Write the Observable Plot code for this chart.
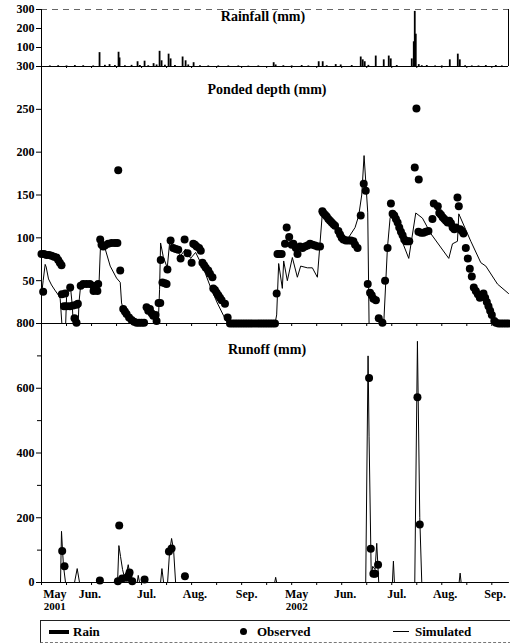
<!DOCTYPE html>
<html>
<head>
<meta charset="utf-8">
<script src="https://cdn.jsdelivr.net/npm/d3@7"></script>
<script src="https://cdn.jsdelivr.net/npm/@observablehq/plot@0.6"></script>
<style>
  html, body { margin: 0; padding: 0; background: #fff; }
  #wrap { position: relative; width: 510px; height: 644px; overflow: hidden; font-family: 'Liberation Serif', 'Times New Roman', serif; font-weight: bold; }
  #wrap svg { position: absolute; left: 0; top: 0; }
  #legend { position: absolute; left: 40px; top: 620px; width: 480px; height: 21px; border-top: 1px solid #222; border-left: 1px solid #222; border-bottom: 1px dashed #777; font-size: 13px; }
  #legend span { position: absolute; top: 3px; }
</style>
</head>
<body>
<div id="wrap">
  <div id="legend">
    <span style="left:8px;top:9px;width:20px;height:4px;background:#000"></span>
    <span style="left:32px">Rain</span>
    <span style="left:199px;top:7px;width:7px;height:7px;border-radius:50%;background:#000"></span>
    <span style="left:216px">Observed</span>
    <span style="left:352px;top:10px;width:16px;height:1px;background:#000"></span>
    <span style="left:374px">Simulated</span>
  </div>
</div>
<script>
// x values are day positions on the chart's compressed two-season time axis
const tickDays = d3.range(0, 281, 15);
const monthDays = [8, 29, 63, 92, 123, 153, 182, 213, 242, 272];
const monthLabels = ["May", "Jun.", "Jul.", "Aug.", "Sep.", "May", "Jun.", "Jul.", "Aug.", "Sep."];
const yearDays = [8, 153];
const yearLabels = ["2001", "2002"];

const rainTicks = [100, 200, 300];
const pondTicks = [50, 100, 150, 200, 250, 300];
const runoffTicks = [0, 200, 400, 600, 800];
const runoffMinorTicks = [100, 300, 500, 700];

// Rainfall (mm): [day, mm]
const rain = [[34.8,73],[40.8,10],[46.2,75],[46.8,45],[57.6,25],[61.8,28],[67.2,15],[70.8,80],[72,30],[76.2,65],[77.4,40],[84.6,50],[86.4,30],[91.2,20],[139.2,20],[140.4,8],[166.2,25],[168.6,25],[176.4,10],[179.4,8],[191.4,50],[192.6,35],[193.8,25],[200.4,55],[205.2,35],[208.2,55],[209.4,40],[222,40],[223.2,130],[223.8,290],[224.4,170],[226.2,10],[231,5],[244.8,35],[249.6,65],[250.8,35],[266.4,5],[272.4,5],
  [5,3],[10,4],[15,3],[20,5],[25,4],[31,3],[38,6],[44,5],[50,4],[54,6],[59,5],[64,4],[69,8],[74,6],[80,5],[88,8],[95,4],[100,3],[106,3],[112,3],[118,3],[124,2],[130,3],[145,4],[150,3],[156,5],[160,3],[171,4],[186,5],[196,6],[213,5],[228,4],[236,3],[240,3],[254,4],[258,3],[262,3],[276,3]];

// Ponded depth observed (mm): [day, mm]
const pondObs2001 = [[1,37],[0,81],[1.5,81],[3,80],[4.5,80],[6,79],[7.5,78],[9,77],[10,74],[11,71],[12,68],[12.2,34],[14.2,35],[17.2,42],[13.5,20],[15,20],[17,20],[19,21],[21,22],[19.8,6],[21,1],[21.8,23],[23.5,44],[25,46],[27,46],[29,46],[31,44],[31.2,38],[32.5,41],[33.5,38],[34,46],[35.2,98],[36,92],[37,90],[38,91],[40,93],[42,94],[44,94],[45.5,94],[46,179],[47.2,62],[49,17],[50,14],[51,11],[52.5,7],[54,4],[55.5,2],[57,1],[58.5,1],[60,1],[61.5,1],[63,19],[64,15],[65,17],[66,12],[67,9],[68.4,10],[69,3],[70.2,24],[71.2,24],[71.5,74],[72.5,48],[74,47],[75,46],[75.5,63],[77.4,97],[79,88],[80.5,87],[82,86],[83.4,76],[85.8,98],[87.6,82],[90,71],[91,93],[92,92],[93,90],[94.5,88],[95.5,85],[96.5,71],[97.5,68],[98.5,65],[100,62],[101,58],[102.5,54],[103,41],[104,39],[105,36],[106,33],[107,30],[108,27],[110,23],[111.6,7],[113,0],[114.5,0],[116,0],[117.5,0],[119,0],[120.5,0],[122,0],[123.5,0],[125,0],[126.5,0],[128,0],[129.5,0],[131,0],[132.5,0],[134,0],[135.5,0],[137,0],[138.5,0],[140,0]];
const pondObs2002 = [[141,35],[141.5,81],[142.5,81],[144,81],[146,93],[147,112],[148.5,101],[150,92],[151,93],[152.5,88],[153.5,81],[155,90],[156.5,88],[158,90],[159.5,91],[161,93],[162.5,92],[164,91],[165.5,90],[167,90],[168.4,131],[169,129],[170,127],[171,125],[172,122],[173,120],[174,118],[175,116],[176,114],[178,108],[179,104],[180,100],[181,98],[182.5,97],[184,97],[185.5,97],[187,96],[188,92],[189.5,88],[191.4,126],[193.2,163],[194.4,155],[195.6,46],[197,36],[198,33],[199,29],[200.5,27],[202.2,6],[204.4,1],[206,50],[207.5,88],[209.5,140],[210.5,128],[211.5,126],[212.5,122],[213.5,118],[214.5,112],[215.5,107],[216.5,103],[217.5,98],[218.5,96],[219.5,96],[220.5,96],[223.8,182],[224.8,251],[226.2,168],[226,107],[227.5,106],[229,106],[230.5,107],[232,108],[234.4,122],[235.2,140],[237.6,137],[238.5,129],[239.5,127],[240.5,124],[241.5,122],[242.5,120],[243.5,118],[244.5,120],[245.5,117],[246.5,112],[247.5,110],[248.5,112],[249.4,147],[250.2,137],[251,110],[252,108],[253,105],[254.4,88],[255.6,76],[256.8,64],[258,55],[259.2,42],[260.4,38],[261.6,34],[262.8,30],[264,33],[265,35],[266,30],[267,25],[268,20],[269,15],[270,10],[271.5,3],[272.5,1],[274,0],[275.5,0],[277,0],[278.5,0],[280,0]];

// Ponded depth simulated (mm): [day, mm]
const pondSim = [[0,33],[1,50],[2.2,69],[2.8,66],[4.2,52],[6,45],[8,39],[10.2,33],[11.2,29],[12.2,0],[14.5,0],[15,30],[16,36],[17.5,40],[18.5,20],[19,0],[22,0],[22.5,25],[23.5,45],[26,46],[30,45],[33,45],[34.5,47],[35.5,97],[37,93],[38.2,87],[41.2,67],[45,53],[47.2,48],[48,24],[50.2,9],[53.4,0],[70,0],[70.8,40],[71.4,94],[73,78],[75.4,65],[76.8,94],[80.4,88],[83.4,79],[86.4,87],[89.4,76],[92.4,83],[97.2,64],[101.4,42],[105.4,24],[109.2,9],[111.4,1],[112,0],[140,0],[141,10],[142.2,70],[144.4,41],[145.2,73],[147.4,50],[150.4,77],[153.4,54],[155.4,67],[159.4,65],[162.4,65],[165.4,54],[168.4,129],[171,125],[174,118],[177,110],[180,103],[184,100],[188,112],[190.2,126],[192,150],[193.4,196],[194.6,160],[195.6,130],[196.4,0],[205.2,0],[207.4,88],[209,123],[210.4,130],[212.4,129],[215.4,100],[220.2,76],[224.4,129],[228.4,123],[233.4,105],[244.2,76],[246.4,93],[249.4,96],[250.2,128],[257.4,96],[263.4,71],[266.4,67],[273.4,46],[280,35]];

// Runoff observed (mm): [day, mm]
const runoffObs = [[12.4,97],[13.8,50],[35,6],[45.8,4],[46.6,176],[48.4,12],[51,15],[52.2,22],[52.8,31],[54.4,4],[61.8,9],[76.4,96],[78,105],[86,19],[196.4,632],[197.4,104],[199,27],[200,27],[201.8,55],[225.4,572],[226.8,179]];

// Runoff simulated (mm): [day, mm]
const runoffSim = [[0,0],[11.4,0],[12,158],[12.6,100],[13.2,50],[14.4,0],[19.8,0],[21.4,43],[22.8,0],[45.6,0],[46.4,114],[47.4,80],[48.6,40],[49.8,15],[51,30],[52,55],[52.8,30],[54,0],[57.4,0],[58,22],[58.8,0],[71.4,0],[72.2,43],[73.2,0],[75.6,0],[76.8,95],[78,136],[79.2,100],[80.4,0],[139.8,0],[140.4,16],[141,0],[194.4,0],[195.8,700],[196.4,450],[197.7,20],[198.6,50],[200,40],[201,121],[202.2,0],[210.4,0],[211,66],[211.6,0],[223.8,0],[225.4,745],[226.8,200],[228,0],[250.4,0],[251,29],[251.6,0],[280,0]];

const FONT = "'Liberation Serif', 'Times New Roman', serif";
const common = {
  width: 510, height: 644, marginLeft: 41, marginRight: 2,
  x: {domain: [0, 280]},
  style: {fontFamily: FONT, fontSize: "12px", fontWeight: "bold", background: "transparent", overflow: "visible", color: "black"}
};
const X = d => d[0], Y = d => d[1];
const titleFont = {fontSize: 14, fontWeight: "bold", fontFamily: FONT};

const rainPlot = Plot.plot({
  ...common, marginTop: 9, marginBottom: 578,
  y: {domain: [0, 300]},
  marks: [
    Plot.axisY({ticks: rainTicks, tickSize: 5, tickPadding: 2, label: null}),
    Plot.axisX({ticks: tickDays, tickSize: 2, tickFormat: () => "", label: null}),
    Plot.ruleY([300], {stroke: "#666", strokeDasharray: "6,5"}),
    Plot.ruleX([280], {stroke: "black"}),
    Plot.ruleX(rain, {x: X, y1: 0, y2: Y, stroke: "black", strokeWidth: 1.8}),
    Plot.ruleY([0], {stroke: "black", strokeWidth: 1.2}),
    Plot.ruleX([0], {stroke: "black"}),
    Plot.text(["Rainfall (mm)"], {frameAnchor: "top", dx: -12, dy: 2, ...titleFont})
  ]
});

const pondPlot = Plot.plot({
  ...common, marginTop: 66, marginBottom: 321,
  y: {domain: [0, 300]},
  marks: [
    Plot.axisY({ticks: pondTicks, tickSize: 5, tickPadding: 2, label: null}),
    Plot.axisX({ticks: tickDays, tickSize: 3, tickFormat: () => "", label: null}),
    Plot.ruleY([0], {stroke: "black", strokeWidth: 1.2}),
    Plot.ruleX([0], {stroke: "black"}),
    Plot.line(pondSim, {x: X, y: Y, stroke: "black", strokeWidth: 1}),
    Plot.dot(pondObs2001.concat(pondObs2002), {x: X, y: Y, r: 4, fill: "black"}),
    Plot.text(["Ponded depth (mm)"], {frameAnchor: "top", dx: -8, dy: 18, ...titleFont})
  ]
});

const runoffPlot = Plot.plot({
  ...common, marginTop: 323, marginBottom: 62,
  y: {domain: [0, 800]},
  marks: [
    Plot.axisY({ticks: runoffTicks, tickSize: 5, tickPadding: 2, label: null}),
    Plot.axisY({ticks: runoffMinorTicks, tickSize: 4, tickFormat: () => "", label: null}),
    Plot.axisX({ticks: tickDays, tickSize: 3, tickFormat: () => "", label: null}),
    Plot.axisX({ticks: monthDays, tickSize: 0, tickPadding: 7, label: null,
      tickFormat: d => monthLabels[monthDays.indexOf(d)], fontSize: 12, fontWeight: "bold"}),
    Plot.axisX({ticks: yearDays, tickSize: 0, tickPadding: 20, label: null,
      tickFormat: d => yearLabels[yearDays.indexOf(d)], fontSize: 11, fontWeight: "bold"}),
    Plot.ruleY([0], {stroke: "black", strokeWidth: 1.2}),
    Plot.ruleX([0], {stroke: "black"}),
    Plot.line(runoffSim, {x: X, y: Y, stroke: "black", strokeWidth: 1}),
    Plot.dot(runoffObs, {x: X, y: Y, r: 4, fill: "black"}),
    Plot.text(["Runoff (mm)"], {frameAnchor: "top", dx: -8, dy: 21, ...titleFont})
  ]
});

const wrap = document.getElementById("wrap");
const legend = document.getElementById("legend");
wrap.insertBefore(rainPlot, legend);
wrap.insertBefore(pondPlot, legend);
wrap.insertBefore(runoffPlot, legend);
</script>
</body>
</html>
